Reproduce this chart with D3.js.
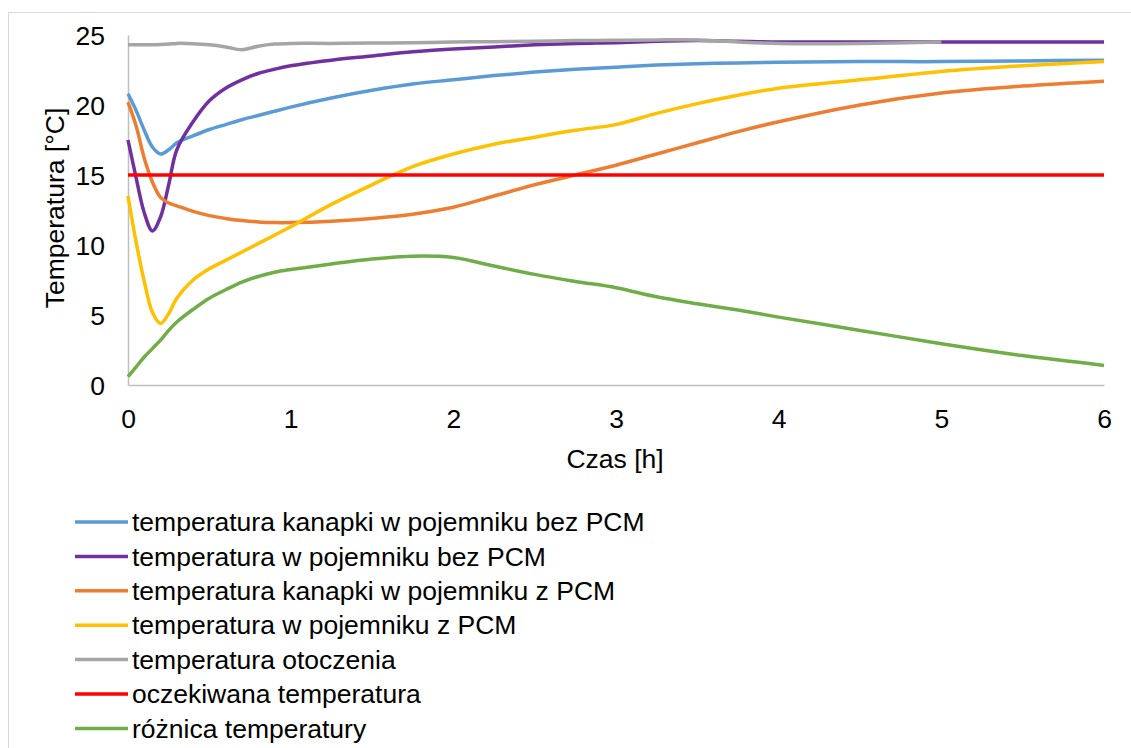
<!DOCTYPE html>
<html>
<head>
<meta charset="utf-8">
<script src="https://cdn.jsdelivr.net/npm/d3@7"></script>
<style>
  body { margin: 0; background: #fff; }
  svg { font-family: "Liberation Sans", Arial, sans-serif; }
</style>
</head>
<body>
<svg id="chart" width="1131" height="748"></svg>
<script>
// czas [h] - wspolna siatka punktow
let czas = [0, 0.05, 0.1, 0.15, 0.2, 0.25, 0.3, 0.4, 0.5, 0.6, 0.7, 0.8, 0.9, 1,
  1.25, 1.5, 1.75, 2, 2.25, 2.5, 2.75, 3, 3.25, 3.5, 3.75, 4, 4.5, 5, 5.5, 6];

let kanapkaBezPCM = [20.8, 19.6, 18.2, 17.0, 16.5, 16.8, 17.3, 17.8, 18.25, 18.6, 18.95, 19.25, 19.55, 19.85,
  20.5, 21.05, 21.5, 21.8, 22.1, 22.35, 22.55, 22.7, 22.85, 22.95, 23.0, 23.05, 23.1, 23.1, 23.15, 23.2];
let pojemnikBezPCM = [17.5, 14.8, 12.3, 11.0, 12.0, 14.3, 16.8, 18.8, 20.3, 21.2, 21.8, 22.25, 22.55, 22.8,
  23.2, 23.5, 23.8, 24.0, 24.15, 24.3, 24.4, 24.45, 24.55, 24.6, 24.55, 24.5, 24.5, 24.5, 24.5, 24.5];
let kanapkaZPCM = [20.2, 18.5, 16.2, 14.5, 13.4, 13.0, 12.8, 12.4, 12.1, 11.9, 11.75, 11.65, 11.6, 11.6,
  11.7, 11.9, 12.2, 12.7, 13.5, 14.3, 15.0, 15.7, 16.5, 17.3, 18.1, 18.8, 20.0, 20.85, 21.35, 21.7];
let pojemnikZPCM = [13.5, 10.2, 7.4, 5.2, 4.4, 5.1, 6.2, 7.5, 8.3, 8.9, 9.5, 10.1, 10.7, 11.3,
  12.9, 14.3, 15.6, 16.5, 17.2, 17.7, 18.2, 18.6, 19.4, 20.1, 20.7, 21.2, 21.8, 22.4, 22.8, 23.1];
let otoczenie = [24.3, 24.3, 24.3, 24.3, 24.32, 24.35, 24.4, 24.38, 24.3, 24.15, 23.95, 24.2, 24.35, 24.4,
  24.4, 24.42, 24.45, 24.5, 24.52, 24.55, 24.6, 24.62, 24.65, 24.65, 24.5, 24.4, 24.4, 24.5, null, null];
let oczekiwana = [15, 15, 15, 15, 15, 15, 15, 15, 15, 15, 15, 15, 15, 15,
  15, 15, 15, 15, 15, 15, 15, 15, 15, 15, 15, 15, 15, 15, 15, 15];
let roznica = [0.6, 1.3, 2.0, 2.6, 3.2, 3.9, 4.5, 5.4, 6.2, 6.8, 7.35, 7.75, 8.05, 8.25,
  8.65, 9.0, 9.2, 9.1, 8.5, 7.9, 7.4, 6.95, 6.3, 5.8, 5.35, 4.85, 3.9, 2.95, 2.1, 1.4];

let nazwy = ['temperatura kanapki w pojemniku bez PCM', 'temperatura w pojemniku bez PCM',
  'temperatura kanapki w pojemniku z PCM', 'temperatura w pojemniku z PCM',
  'temperatura otoczenia', 'oczekiwana temperatura', 'różnica temperatury'];
let kolory = ['#5b9bd5', '#7030a0', '#ed7d31', '#ffc000', '#a5a5a5', '#ff0000', '#70ad47'];
let xTicks = [0, 1, 2, 3, 4, 5, 6];
let yTicks = [0, 5, 10, 15, 20, 25];

let serie = [kanapkaBezPCM, pojemnikBezPCM, kanapkaZPCM, pojemnikZPCM, otoczenie, oczekiwana, roznica];

let FONT = 26.5;
let svg = d3.select('#chart');

// ramka wykresu
svg.append('rect')
  .attr('x', 8.5).attr('y', 12.5)
  .attr('width', 1200).attr('height', 800)
  .attr('fill', 'none').attr('stroke', '#d9d9d9').attr('stroke-width', 1);

let xScale = d3.scaleLinear().domain([0, 6]).range([128, 1104]);
let yScale = d3.scaleLinear().domain([0, 25]).range([385, 35]);

// osie
let xAxis = svg.append('g')
  .attr('transform', 'translate(0,385)')
  .call(d3.axisBottom(xScale).tickValues(xTicks).tickSize(0).tickFormat(d3.format('d')));
let yAxis = svg.append('g')
  .attr('transform', 'translate(128,0)')
  .call(d3.axisLeft(yScale).tickValues(yTicks).tickSize(0).tickFormat(d3.format('d')));

[xAxis, yAxis].forEach(a => {
  a.select('.domain').attr('stroke', '#bfbfbf').attr('stroke-width', 1.5);
  a.selectAll('text').attr('font-size', FONT).attr('fill', '#000')
    .attr('font-family', '"Liberation Sans", Arial, sans-serif');
});
xAxis.selectAll('text').attr('dy', 0).attr('y', 43);
yAxis.selectAll('text').attr('x', -23).attr('dy', '0.35em');

// tytuly osi
svg.append('text')
  .attr('x', 615).attr('y', 468)
  .attr('text-anchor', 'middle').attr('font-size', FONT)
  .text('Czas [h]');
svg.append('text')
  .attr('transform', 'translate(64,208) rotate(-90)')
  .attr('text-anchor', 'middle').attr('font-size', FONT)
  .text('Temperatura [°C]');

// linie serii (wygladzone jak w Excelu)
let line = d3.line()
  .defined(d => d[1] != null)
  .x(d => xScale(d[0]))
  .y(d => yScale(d[1]))
  .curve(d3.curveCatmullRom.alpha(0.5));

svg.append('g')
  .selectAll('path')
  .data(serie)
  .join('path')
  .attr('d', s => line(czas.map((t, i) => [t, s[i]])))
  .attr('fill', 'none')
  .attr('stroke', (s, i) => kolory[i])
  .attr('stroke-width', 3.5)
  .attr('stroke-linejoin', 'round');

// legenda
let legend = svg.append('g')
  .selectAll('g')
  .data(nazwy)
  .join('g')
  .attr('transform', (d, i) => `translate(75,${522 + i * 34.4})`);

legend.append('line')
  .attr('x1', 0).attr('x2', 53)
  .attr('stroke', (d, i) => kolory[i])
  .attr('stroke-width', 3.5);

legend.append('text')
  .attr('x', 57).attr('dy', '0.35em')
  .attr('font-size', FONT)
  .text(d => d);
</script>
</body>
</html>
